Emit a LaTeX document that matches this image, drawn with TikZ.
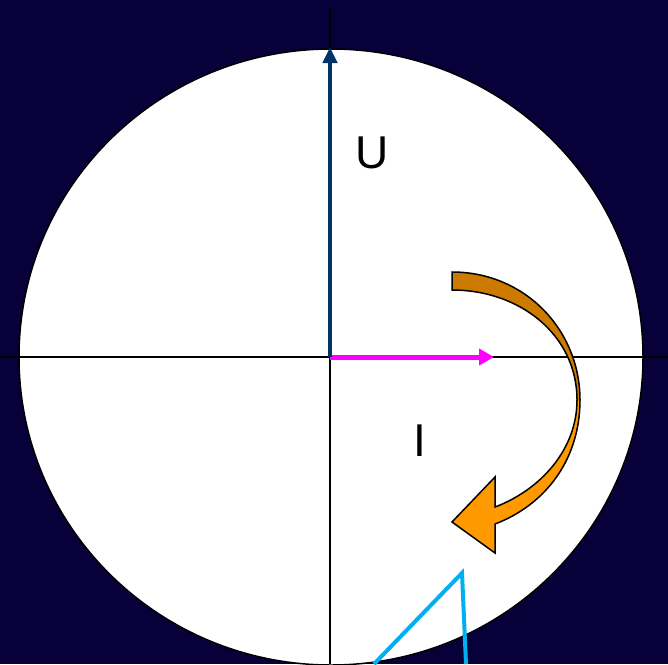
\documentclass[tikz,border=0pt]{standalone}
\usepackage{fontspec}
\setmainfont{Liberation Sans}
\usetikzlibrary{arrows.meta,positioning}
\definecolor{bgcol}{RGB}{8,0,56}
\definecolor{ucol}{RGB}{0,51,102}
\definecolor{icol}{RGB}{255,0,255}
\definecolor{darkor}{RGB}{204,122,0}
\definecolor{lightor}{RGB}{255,153,0}
\definecolor{cyancol}{RGB}{0,176,240}
\tikzset{
  ax/.style={draw=black,line width=1.5pt},
  ua/.style={-{Triangle[length=16pt,width=14pt]},draw=ucol,line width=4pt},
  ia/.style={-{Triangle[length=15pt,width=16pt]},draw=icol,line width=5pt},
  lab/.style={font=\fontsize{46}{46}\selectfont,inner sep=0pt},
  tri/.style={draw=cyancol,line width=4pt,line join=miter}
}
\begin{document}
\begin{tikzpicture}[x=1pt,y=-1pt]
\fill[bgcol] (0,0) rectangle (668,664);
\useasboundingbox (0,0) rectangle (668,664);
\begin{scope}
  \clip (0,0) rectangle (668,664);
  \fill[white,draw=black,line width=1.5pt] (331,357) ellipse [x radius=312,y radius=-308];
\end{scope}
% axes
\coordinate (o) at (330,357);
\coordinate (top) at (330,8);
\coordinate (bot) at (330,664);
\coordinate (left) at (0,357);
\coordinate (right) at (668,357);
\draw[ax] (top)--(bot);
\draw[ax] (left)--(right);
% phasors
\coordinate (utip) at (330,47);
\coordinate (itip) at (494,357);
\draw[ia] (o)--(itip);
\draw[ua] (o)--(utip);
\node[lab] (u) at (372,153) {U};
\node[lab] (i) at (420,441) {I};
% curved arrow
\fill[darkor] (452,272) .. controls (525,272) and (580,330) .. (580,400)
  -- (577,400) .. controls (577,335) and (520,290) .. (452,290) -- cycle;
\fill[lightor] (580,400) .. controls (580,460) and (545,505) .. (495,524)
  -- (495,553) -- (452,522) -- (495,477) -- (495,507)
  .. controls (540,490) and (577,450) .. (577,400) -- cycle;
\draw[black,line width=1.5pt,line join=miter] (452,272) .. controls (525,272) and (580,330) .. (580,400)
  .. controls (580,460) and (545,505) .. (495,524)
  -- (495,553) -- (452,522) -- (495,477) -- (495,507)
  .. controls (540,490) and (577,450) .. (577,400)
  .. controls (577,335) and (520,290) .. (452,290) -- cycle;
% cyan lines
\coordinate (c1) at (374,664);
\coordinate (c2) at (462,573);
\coordinate (c3) at (466,664);
\draw[tri] (c1)--(c2)--(c3);
\end{tikzpicture}
\end{document}
